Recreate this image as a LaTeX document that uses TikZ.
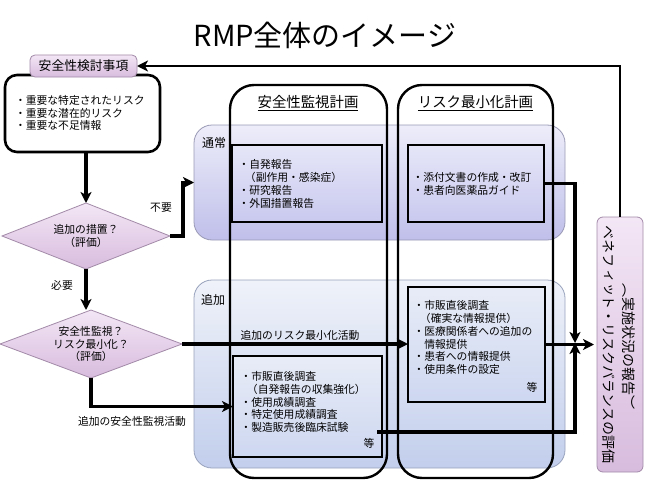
\documentclass[tikz,border=0pt]{standalone}
\usepackage{fontspec}
\setmainfont{Noto Sans CJK JP}
\newfontfamily\vjp[Vertical=RotatedGlyphs]{Noto Sans CJK JP}
\usetikzlibrary{shapes.geometric,arrows.meta,calc}
\definecolor{pinkTop}{HTML}{F3E6F5}
\definecolor{pinkBot}{HTML}{D8BCDE}
\definecolor{pinkBorder}{HTML}{A28AA8}
\definecolor{tsTop}{HTML}{EDEDFA}
\definecolor{tsBot}{HTML}{BFBFEA}
\definecolor{tsBorder}{HTML}{9A9AB6}
\definecolor{tkTop}{HTML}{EFF2F9}
\definecolor{tkBot}{HTML}{C2CEEC}
\definecolor{tkBorder}{HTML}{98A2BC}
\definecolor{inTsTop}{HTML}{E6E6F8}
\definecolor{inTsBot}{HTML}{C9C9EF}
\definecolor{inTkTop}{HTML}{E8ECF7}
\definecolor{inTkBot}{HTML}{CDD7F0}
\newcommand\bodyf{\fontsize{10.8}{12.8}\selectfont}
\begin{document}
\begin{tikzpicture}[x=1pt,y=-1pt,
  every node/.style={inner sep=0pt, outer sep=0pt},
  conn/.style={line width=3.1pt},
  arr/.style={-{Stealth[length=11pt,width=11pt,inset=3pt]}},
  pinkbox/.style={draw=pinkBorder, line width=0.8pt, top color=pinkTop, bottom color=pinkBot},
  panelts/.style={draw=tsBorder, line width=0.8pt, top color=tsTop, bottom color=tsBot, rounded corners=18pt},
  paneltk/.style={draw=tkBorder, line width=0.8pt, top color=tkTop, bottom color=tkBot, rounded corners=18pt},
  colframe/.style={draw=black, line width=2.4pt, rounded corners=24pt},
  innerts/.style={draw=black, line width=2.8pt, top color=inTsTop, bottom color=inTsBot},
  innertk/.style={draw=black, line width=2.8pt, top color=inTkTop, bottom color=inTkBot},
  decision/.style={shape=diamond, shape aspect=2.6, pinkbox, align=center, font=\bodyf},
  bodytext/.style={anchor=west, align=left, font=\bodyf},
  lbl/.style={font=\bodyf}
]
\useasboundingbox (0,0) rectangle (650,487);

% title
\node[font=\fontsize{29}{29}\selectfont] (title) at (325,35) {RMP全体のイメージ};

% left column: issues box
\node[draw=black, line width=2.6pt, fill=white, rounded corners=12pt,
      minimum width=155pt, minimum height=77pt] (bigbox) at (82.5,113.5) {};
\node[bodytext] (bigtext) at (15,113) {・重要な特定されたリスク\\・重要な潜在的リスク\\・重要な不足情報};
\node[pinkbox, rounded corners=5pt, minimum width=107pt, minimum height=22pt,
      font=\fontsize{12.8}{14}\selectfont] (kentou) at (83.5,66) {安全性検討事項};

% decisions
\node[decision, minimum width=168pt, minimum height=66pt] (d1) at (86,236)
  {追加の措置？\\（評価）};
\node[decision, minimum width=182pt, minimum height=68pt] (d2) at (91,344)
  {安全性監視？\\リスク最小化？\\（評価）};

% panels
\node[panelts, minimum width=371pt, minimum height=115pt] (tsujo) at (379.5,182.5) {};
\node[paneltk, minimum width=371pt, minimum height=188pt] (tsuika) at (379.5,374) {};
\node[font=\fontsize{12}{14}\selectfont] (tsujolbl) at (214,143) {通常};
\node[font=\fontsize{12}{14}\selectfont] (tsuikalbl) at (213,300) {追加};

% column frames
\node[colframe, minimum width=157pt, minimum height=393pt] (col1) at (308.5,281.5) {};
\node[colframe, minimum width=155pt, minimum height=393pt] (col2) at (475.5,281.5) {};
\node[font=\fontsize{14.4}{16}\selectfont] (col1title) at (308,103) {\underline{安全性監視計画}};
\node[font=\fontsize{14.4}{16}\selectfont] (col2title) at (475.5,103) {\underline{リスク最小化計画}};

% inner boxes
\node[innerts, minimum width=150pt, minimum height=77pt] (tsujo1) at (307,183.5) {};
\node[innerts, minimum width=136pt, minimum height=77pt] (tsujo2) at (476,183.5) {};
\node[innertk, minimum width=149pt, minimum height=101pt] (anzenadd) at (307.5,406.5) {};
\node[innertk, minimum width=137pt, minimum height=115pt] (riskadd) at (476.5,344.5) {};

\node[bodytext] (tsujo1text) at (238.5,184) {・自発報告\\\hspace{0.6em}（副作用・感染症）\\・研究報告\\・外国措置報告};
\node[bodytext] (tsujo2text) at (412.5,184) {・添付文書の作成・改訂\\・患者向医薬品ガイド};
\node[bodytext] (anzentext) at (240.5,402) {・市販直後調査\\\hspace{0.6em}（自発報告の収集強化）\\・使用成績調査\\・特定使用成績調査\\・製造販売後臨床試験};
\node[bodytext] (risktext) at (413.5,337.5) {・市販直後調査\\\hspace{0.6em}（確実な情報提供）\\・医療関係者への追加の\\\hspace{1em}情報提供\\・患者への情報提供\\・使用条件の設定};
\node[lbl] (etc1) at (369,443) {等};
\node[lbl] (etc2) at (532,387) {等};

% benefit-risk box
\node[pinkbox, rounded corners=6pt, minimum width=46pt, minimum height=255pt] (bene) at (620,344.5) {};
\node[rotate=-90, font=\vjp\fontsize{14}{14}\selectfont] (benet1) at (609,344) {ベネフィット・リスクバランスの評価};
\node[rotate=-90, font=\vjp\fontsize{14}{14}\selectfont] (benet2) at (629,346) {（実施状況の報告）};

% labels
\node[lbl] (fuyou) at (161,208) {不要};
\node[lbl] (hitsuyou) at (62,285) {必要};
\node[lbl] (riskact) at (300,335) {追加のリスク最小化活動};
\node[lbl] (anzenact) at (132,421) {追加の安全性監視活動};

% connectors
\coordinate (conv) at (575,343);
\coordinate (c3) at (377,432);
\draw[conn,arr] (d1.north |- bigbox.south) -- (d1.north);
\draw[conn,arr] (d1.south) -- (d1.south |- d2.north);
\draw[conn,arr] (d1.east) -- ++(13,0) |- (tsujo.west);
\draw[conn,arr] (d2.east) -- (d2.east -| riskadd.west);
\draw[conn,arr] (d2.south) |- (anzenadd.west);
\draw[conn,arr] (tsujo2.east) -| (conv);
\draw[conn,arr] (c3) -| (conv);
\draw[conn,arr,shorten >=3pt] (riskadd.east) -- (riskadd.east -| bene.west);
\draw[line width=2.6pt,arr] (bene.north) |- (kentou.east);
\end{tikzpicture}
\end{document}
